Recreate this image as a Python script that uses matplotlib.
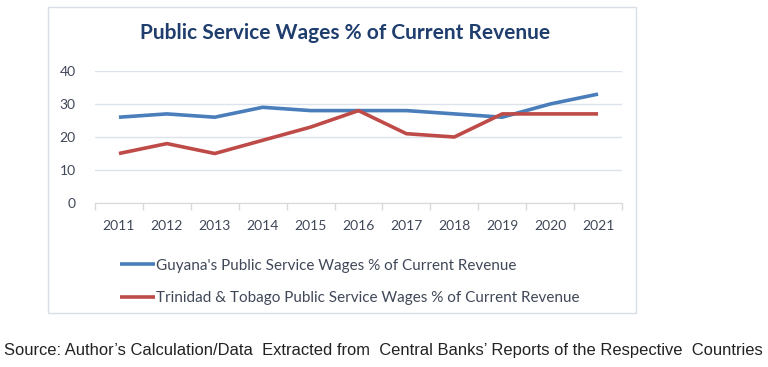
import matplotlib
matplotlib.use("Agg")
import matplotlib.pyplot as plt
from matplotlib.patches import Rectangle

years = ["2011", "2012", "2013", "2014", "2015", "2016", "2017", "2018", "2019", "2020", "2021"]
guyana = [26, 27, 26, 29, 28, 28, 28, 27, 26, 30, 33]
tt = [15, 18, 15, 19, 23, 28, 21, 20, 27, 27, 27]
yticks = [0, 10, 20, 30, 40]
title = "Public Service Wages % of Current Revenue"
label_g = "Guyana's Public Service Wages % of Current Revenue"
label_t = "Trinidad & Tobago Public Service Wages % of Current Revenue"
source = "Source: Author\u2019s Calculation/Data  Extracted from  Central Banks\u2019 Reports of the Respective  Countries"

W, H = 768, 367
fig = plt.figure(figsize=(W / 100, H / 100), dpi=100)
fig.patch.set_facecolor("white")

# chart border
fig.patches.append(Rectangle((48 / W, 1 - 313 / H), (636 - 48) / W, (313 - 7) / H,
                             transform=fig.transFigure, fill=False,
                             edgecolor="#D9DEE4", linewidth=1.0))

ax = fig.add_axes([95 / W, 1 - 203 / H, (622 - 95) / W, (203 - 71) / H])
x = list(range(len(years)))
l1, = ax.plot(x, guyana, color="#4A7EBB", linewidth=2.6, solid_capstyle="butt", label=label_g)
l2, = ax.plot(x, tt, color="#BE4B48", linewidth=2.6, solid_capstyle="butt", label=label_t)

ax.set_xlim(-0.5, len(years) - 0.5)
ax.set_ylim(0, 40)
ax.set_yticks(yticks)
ax.set_yticklabels([str(v) for v in yticks])
ax.set_xticks(x)
ax.set_xticklabels(years)
ax.set_xticks([i - 0.5 for i in range(len(years) + 1)], minor=True)
ax.tick_params(axis="x", which="major", length=0, pad=12)
ax.tick_params(axis="x", which="minor", length=5, color="#D9D9D9", width=1)
ax.tick_params(axis="y", length=0, pad=14)
for lab in ax.get_xticklabels() + ax.get_yticklabels():
    lab.set_fontfamily("Lato")
    lab.set_fontsize(10)
    lab.set_color("#404858")
ax.grid(axis="y", color="#DCE3EC", linewidth=1)
ax.set_axisbelow(True)
for s in ["top", "right", "left"]:
    ax.spines[s].set_visible(False)
ax.spines["bottom"].set_color("#D9D9D9")

fig.text(345 / W, 1 - 33 / H, title, ha="center", va="center",
         fontfamily="Lato", fontweight="bold", fontsize=15, color="#1F3E6E")

leg = fig.legend(handles=[l1, l2], loc="upper left",
                 bbox_to_anchor=(112 / W, 1 - 251 / H), frameon=False,
                 prop={"family": "Lato", "size": 11}, handlelength=2.3,
                 handletextpad=0.1, labelspacing=1.2, borderpad=0)
for t in leg.get_texts():
    t.set_color("#404858")

fig.text(4 / W, 1 - 350 / H, source, ha="left", va="center",
         fontfamily="Liberation Sans", fontsize=11.85, color="#222222")

fig.savefig("out.png", dpi=100, facecolor="white")
